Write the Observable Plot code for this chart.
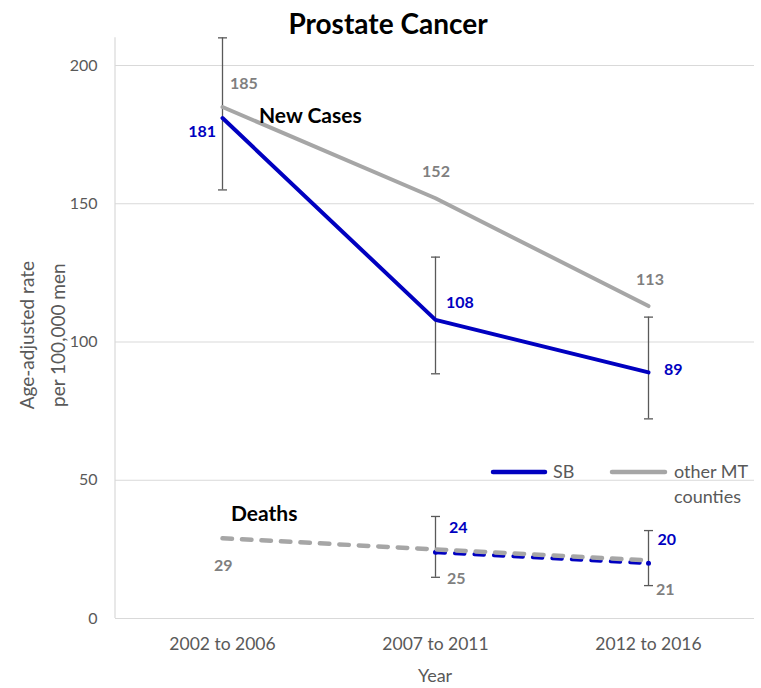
<!DOCTYPE html>
<html>
<head>
<meta charset="utf-8">
<script src="https://cdn.jsdelivr.net/npm/d3@7"></script>
<script src="https://cdn.jsdelivr.net/npm/@observablehq/plot@0.6"></script>
<style>
  body { margin: 0; background: #fff; font-family: Lato, sans-serif; }
  #wrap { position: relative; width: 761px; height: 688px; overflow: hidden; }
  #title { width: 761px; height: 35px; line-height: 46px; font-size: 28px; font-weight: bold; color: #000;
           text-align: center; padding-left: 15px; box-sizing: border-box; white-space: nowrap; }
  #chart svg { display: block; }
  #legend { position: absolute; left: 480px; top: 455px; }
</style>
</head>
<body>
<div id="wrap">
  <div id="title">Prostate Cancer</div>
  <div id="chart"></div>
  <svg id="legend" width="281" height="55"></svg>
</div>
<script>
// ---- data ----
const years = ["2002 to 2006", "2007 to 2011", "2012 to 2016"];
const sbNew = [181, 108, 89];
const sbNewLow = [155, 88.5, 72.2];
const sbNewHigh = [210, 130.7, 109];
const otherNew = [185, 152, 113];
const sbDeaths = [null, 24, 20];
const sbDeathsLow = [null, 14.9, 11.9];
const sbDeathsHigh = [null, 36.9, 31.8];
const otherDeaths = [29, 25, 21];
const yTicks = [0, 50, 100, 150, 200];
const yLabelLines = ["Age-adjusted rate", "per 100,000 men"];
const seriesNames = ["SB", "other MT counties"];

const BLUE = "#0000c0", GRAY_LINE = "#a6a6a6", GRAY_TEXT = "#7f7f7f", AXIS = "#595959", GRID = "#d9d9d9";

const rows = years.map((year, i) => ({
  year,
  sbNew: sbNew[i], sbNewLow: sbNewLow[i], sbNewHigh: sbNewHigh[i],
  otherNew: otherNew[i],
  sbDeath: sbDeaths[i], sbDeathLow: sbDeathsLow[i], sbDeathHigh: sbDeathsHigh[i],
  otherDeath: otherDeaths[i]
}));

const cap = { draw(ctx) { ctx.moveTo(-4.5, 0); ctx.lineTo(4.5, 0); } };

function errorBars(lo, hi) {
  return [
    Plot.ruleX(rows, { x: "year", y1: lo, y2: hi, stroke: AXIS, strokeWidth: 1.3 }),
    Plot.dot(rows, { x: "year", y: lo, symbol: cap, fill: "none", stroke: AXIS, strokeWidth: 1.3 }),
    Plot.dot(rows, { x: "year", y: hi, symbol: cap, fill: "none", stroke: AXIS, strokeWidth: 1.3 })
  ];
}

function label(field, i, fill, textAnchor, dx, dy) {
  return Plot.text([rows[i]], {
    x: "year", y: field, text: d => String(d[field]),
    fill, textAnchor, dx, dy, fontSize: 16, fontWeight: "bold"
  });
}

const chart = Plot.plot({
  width: 761,
  height: 653,
  marginLeft: 115,
  marginRight: 7,
  marginTop: 2.35,
  marginBottom: 70,
  style: { fontFamily: "Lato, sans-serif", color: AXIS, background: "transparent" },
  x: { type: "point", domain: years, padding: 0.5 },
  y: { domain: [0, 210] },
  marks: [
    Plot.ruleY(yTicks, { stroke: GRID, strokeWidth: 1.2 }),
    Plot.axisY(yTicks, { tickSize: 0, tickPadding: 18, fontSize: 16, label: null }),
    Plot.axisX({ tickSize: 0, tickPadding: 19, fontSize: 17.5, label: null }),
    Plot.text([yLabelLines[0]], {
      frameAnchor: "left", text: d => d, rotate: -90, textAnchor: "middle", lineAnchor: "middle",
      dx: -88, dy: 7, fontSize: 19, fill: AXIS
    }),
    Plot.text([yLabelLines[1]], {
      frameAnchor: "left", text: d => d, rotate: -90, textAnchor: "middle", lineAnchor: "middle",
      dx: -57, dy: 7, fontSize: 19, fill: AXIS
    }),
    Plot.text(["Year"], { frameAnchor: "bottom", text: d => d, textAnchor: "middle", lineAnchor: "middle", dy: 58, fontSize: 18, fill: AXIS }),
    ...errorBars("sbNewLow", "sbNewHigh"),
    ...errorBars("sbDeathLow", "sbDeathHigh"),
    Plot.line(rows, { x: "year", y: "otherNew", stroke: GRAY_LINE, strokeWidth: 4, strokeLinejoin: "round", strokeLinecap: "round" }),
    Plot.line(rows, { x: "year", y: "sbNew", stroke: BLUE, strokeWidth: 4, strokeLinejoin: "round", strokeLinecap: "round" }),
    Plot.line(rows, { x: "year", y: "sbDeath", stroke: BLUE, strokeWidth: 4, strokeDasharray: "9.5,10", strokeLinecap: "round" }),
    Plot.dot(rows, { x: "year", y: "sbDeath", r: 2.5, fill: BLUE }),
    Plot.line(rows, { x: "year", y: "otherDeath", stroke: GRAY_LINE, strokeWidth: 4.5, strokeDasharray: "9.5,10", strokeLinecap: "round" }),
    // value labels
    label("otherNew", 0, GRAY_TEXT, "start", 7.5, -23.5),
    label("otherNew", 1, GRAY_TEXT, "middle", 0.5, -26.7),
    label("otherNew", 2, GRAY_TEXT, "middle", 1.5, -26.5),
    label("sbNew", 0, BLUE, "end", -6.5, 13.5),
    label("sbNew", 1, BLUE, "start", 10.5, -17.4),
    label("sbNew", 2, BLUE, "start", 15.5, -3),
    label("sbDeath", 1, BLUE, "start", 13.5, -24),
    label("sbDeath", 2, BLUE, "start", 9, -23.7),
    label("otherDeath", 0, GRAY_TEXT, "start", -8.5, 28),
    label("otherDeath", 1, GRAY_TEXT, "start", 11.5, 29),
    label("otherDeath", 2, GRAY_TEXT, "start", 7.5, 29),
    // annotations
    Plot.text([rows[0]], { x: "year", y: "otherNew", text: () => "New Cases", textAnchor: "start", dx: 36.5, dy: 9, fontSize: 21, fontWeight: "bold", fill: "#000" }),
    Plot.text([rows[0]], { x: "year", y: "otherDeath", text: () => "Deaths", textAnchor: "start", dx: 8.5, dy: -24, fontSize: 21, fontWeight: "bold", fill: "#000" })
  ]
});

// left axis line drawn from the plot's own scales
const xs = chart.scale("x"), ys = chart.scale("y");
d3.select(chart).append("line")
  .attr("x1", xs.range[0]).attr("x2", xs.range[0])
  .attr("y1", ys.range[0]).attr("y2", ys.range[1])
  .attr("stroke", GRID).attr("stroke-width", 1.2);

document.getElementById("chart").appendChild(chart);

// legend
const lg = d3.select("#legend");
const items = [
  { name: seriesNames[0], color: BLUE, x0: 13, x1: 65, tx: 73, lines: ["SB"] },
  { name: seriesNames[1], color: GRAY_LINE, x0: 132, x1: 185, tx: 194, lines: ["other MT", "counties"] }
];
for (const it of items) {
  lg.append("line").attr("x1", it.x0).attr("x2", it.x1).attr("y1", 17).attr("y2", 17)
    .attr("stroke", it.color).attr("stroke-width", 4.5).attr("stroke-linecap", "round");
  it.lines.forEach((t, k) => {
    lg.append("text").attr("x", it.tx).attr("y", 17 + k * 25).attr("dy", "0.35em")
      .attr("font-size", 18).attr("fill", AXIS).attr("font-family", "Lato, sans-serif").text(t);
  });
}
</script>
</body>
</html>
